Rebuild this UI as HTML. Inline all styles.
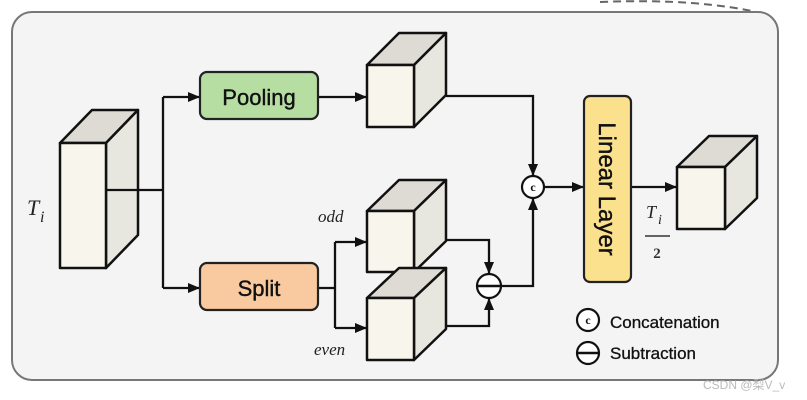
<!DOCTYPE html>
<html><head><meta charset="utf-8"><style>
body{margin:0;background:#fff;}
svg{display:block;}
</style></head><body>
<svg width="807" height="400" viewBox="0 0 807 400" xmlns="http://www.w3.org/2000/svg" font-family="Liberation Sans, sans-serif">
<defs>
<marker id="a" markerWidth="12" markerHeight="10" refX="11" refY="5" orient="auto" markerUnits="userSpaceOnUse">
<path d="M0,0 L12,5 L0,10 z" fill="#111"/></marker>
</defs>
<path d="M600,2 Q700,-2 765,14" fill="none" stroke="#666" stroke-width="2" stroke-dasharray="8,5"/>
<rect x="12" y="12" width="766" height="368" rx="20" fill="#f4f4f4" stroke="#777" stroke-width="2"/>
<g stroke="#111" stroke-width="2.5" stroke-linejoin="round">
<polygon points="60,143 92,110 138,110 106,143" fill="#dddbd3"/>
<polygon points="106,143 138,110 138,235 106,268" fill="#e8e7df"/>
<rect x="60" y="143" width="46" height="125" fill="#f8f6ec"/>
<polygon points="367,65 399,33 446,33 414,65" fill="#dddbd3"/>
<polygon points="414,65 446,33 446,95 414,127" fill="#e8e7df"/>
<rect x="367" y="65" width="47" height="62" fill="#f8f6ec"/>
<polygon points="367,211 399,180 446,180 414,211" fill="#dddbd3"/>
<polygon points="414,211 446,180 446,241 414,272" fill="#e8e7df"/>
<rect x="367" y="211" width="47" height="61" fill="#f8f6ec"/>
<polygon points="367,298 399,268 446,268 414,298" fill="#dddbd3"/>
<polygon points="414,298 446,268 446,329 414,360" fill="#e8e7df"/>
<rect x="367" y="298" width="47" height="62" fill="#f8f6ec"/>
<polygon points="677,167 709,136 757,136 725,167" fill="#dddbd3"/>
<polygon points="725,167 757,136 757,198 725,229" fill="#e8e7df"/>
<rect x="677" y="167" width="48" height="62" fill="#f8f6ec"/>
</g>
<g fill="none" stroke="#111" stroke-width="2.3">
<path d="M106,190 H163"/>
<path d="M163,97 V288"/>
<path d="M163,97 H199" marker-end="url(#a)"/>
<path d="M163,288 H199" marker-end="url(#a)"/>
<path d="M318,97 H366" marker-end="url(#a)"/>
<path d="M318,288 H335 M335,242 V328"/>
<path d="M335,242 H366" marker-end="url(#a)"/>
<path d="M335,328 H366" marker-end="url(#a)"/>
<path d="M446,240 H489 V273" marker-end="url(#a)"/>
<path d="M446,326 H489 V299" marker-end="url(#a)"/>
<path d="M501,286 H533 V199" marker-end="url(#a)"/>
<path d="M446,96 H533 V175" marker-end="url(#a)"/>
<path d="M544,187 H583" marker-end="url(#a)"/>
<path d="M631,187 H676" marker-end="url(#a)"/>
</g>
<rect x="200" y="72" width="118" height="47" rx="7" fill="#b7dea2" stroke="#222" stroke-width="2.2"/>
<text x="259" y="105" font-size="22" text-anchor="middle" fill="#111" stroke="#111" stroke-width="0.4">Pooling</text>
<rect x="200" y="263" width="118" height="47" rx="7" fill="#f9c9a0" stroke="#222" stroke-width="2.2"/>
<text x="259" y="296" font-size="22" text-anchor="middle" fill="#111" stroke="#111" stroke-width="0.4">Split</text>
<rect x="584" y="96" width="47" height="186" rx="6" fill="#fbe08e" stroke="#222" stroke-width="2.2"/>
<text transform="translate(599,189) rotate(90)" font-size="24" text-anchor="middle" fill="#111" stroke="#111" stroke-width="0.4">Linear Layer</text>
<g stroke="#111" stroke-width="2.2" fill="#fff">
<circle cx="533" cy="187" r="11"/>
<circle cx="489" cy="286" r="12"/>
<circle cx="588" cy="320" r="11"/>
<circle cx="588" cy="353" r="11"/>
</g>
<path d="M477,286 H501 M577,353 H599" stroke="#111" stroke-width="2.5"/>
<g font-family="Liberation Serif, serif" font-weight="bold" font-size="12" text-anchor="middle" fill="#111">
<text x="533" y="191">c</text><text x="588" y="324">c</text></g>
<text x="610" y="328" font-size="17" fill="#111" stroke="#111" stroke-width="0.3">Concatenation</text>
<text x="610" y="359" font-size="17" fill="#111" stroke="#111" stroke-width="0.3">Subtraction</text>
<g font-family="Liberation Serif, serif" font-style="italic" fill="#222">
<text x="27" y="215" font-size="22">T</text><text x="40" y="222" font-size="16">i</text>
<text x="318" y="222" font-size="17">odd</text>
<text x="314" y="355" font-size="17">even</text>
<text x="646" y="218" font-size="18">T</text><text x="658" y="224" font-size="14">i</text>
</g>
<path d="M645,236 H670" stroke="#333" stroke-width="1.5"/>
<text x="657" y="258" font-family="Liberation Serif, serif" font-size="15" font-weight="bold" text-anchor="middle" fill="#333">2</text>
<text x="703" y="389" font-family="Liberation Sans, Noto Sans CJK SC, sans-serif" font-size="12" fill="#bbb">CSDN @梨V_v</text>
</svg>
</body></html>
